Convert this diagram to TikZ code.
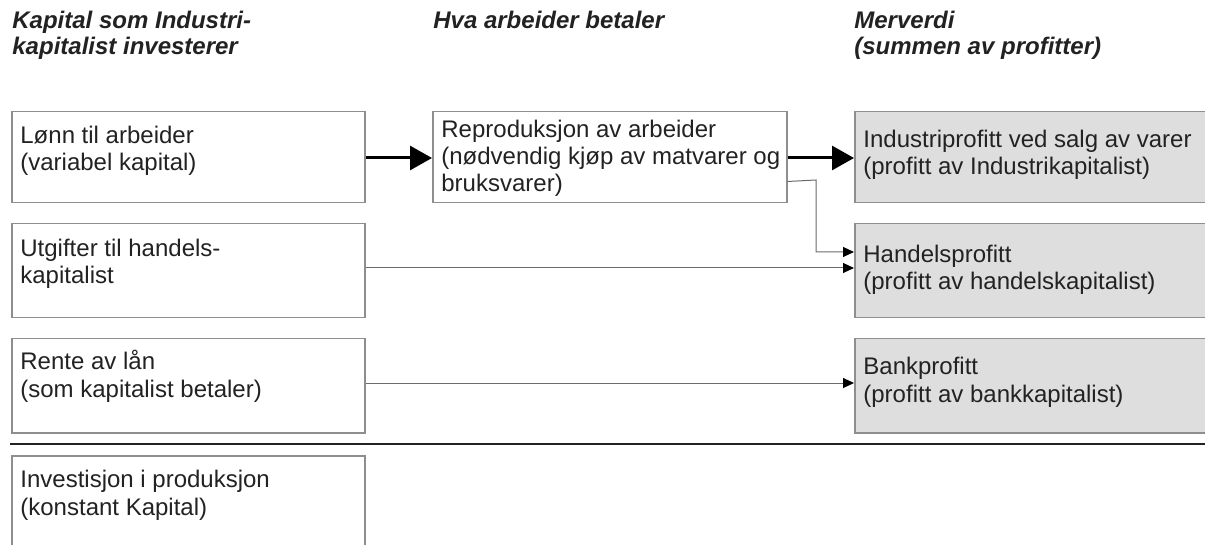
\documentclass[tikz,border=0pt]{standalone}
\usepackage{fontspec}
\setmainfont{Liberation Sans}
\usetikzlibrary{arrows.meta,calc}
\definecolor{txt}{HTML}{222222}
\definecolor{bord}{HTML}{8E8E8E}
\definecolor{fillg}{HTML}{DEDEDE}
\definecolor{thin}{HTML}{6A6A6A}
\begin{document}
\begin{tikzpicture}[x=0.5pt,y=-0.5pt,
  every node/.style={text=txt},
  box/.style={draw=bord,line width=0.75pt,anchor=north west,inner sep=0pt,minimum width=#1*0.5pt},
  gbox/.style={box=#1,fill=fillg},
  boxtext/.style={anchor=base west,inner sep=0pt,align=left,font=\fontsize{12}{13.6}\selectfont},
  head/.style={anchor=base west,inner sep=0pt,align=left,font=\fontsize{12}{13}\selectfont\bfseries\itshape},
  thick arrow/.style={line width=1.5pt,-{Triangle[length=11pt,width=12pt]}},
  thin arrow/.style={draw=thin,line width=0.5pt,-{Triangle[length=5.5pt,width=5pt,color=black]}}
]
\clip (0,0) rectangle (1205,545);
\fill[white] (0,0) rectangle (1205,545);

% headers (anchor at last baseline)
\node[head] (h1) at (12,55) {Kapital som Industri-\\kapitalist investerer};
\node[head] (h2) at (433,29) {Hva arbeider betaler};
\node[head] (h3) at (854,55) {Merverdi\\(summen av profitter)};

% left boxes
\node[box=353,minimum height=45.5pt] (b1) at (11,111) {};
\node[box=353,minimum height=47pt] (b2) at (11,223) {};
\node[box=353,minimum height=47pt] (b3) at (11,338) {};
\node[box=353,minimum height=60pt] (b4) at (11,455) {};

% middle box
\node[box=354,minimum height=45.5pt] (m) at (432,111) {};

% right boxes
\node[gbox=380,minimum height=45.5pt] (r1) at (854,111) {};
\node[gbox=380,minimum height=47pt] (r2) at (854,223) {};
\node[gbox=380,minimum height=47pt] (r3) at (854,338) {};

% texts (anchor at last baseline; line step 27px)
\node[boxtext] (t1) at ($(b1.north west)+(9,60)$) {Lønn til arbeider\\(variabel kapital)};
\node[boxtext] (t2) at ($(b2.north west)+(9,61)$) {Utgifter til handels-\\kapitalist};
\node[boxtext] (t3) at ($(b3.north west)+(9,59)$) {Rente av lån\\(som kapitalist betaler)};
\node[boxtext] (t4) at ($(b4.north west)+(9,60)$) {Investisjon i produksjon\\(konstant Kapital)};
\node[boxtext] (tm) at ($(m.north west)+(9,81)$) {Reproduksjon av arbeider\\(nødvendig kjøp av matvarer og\\bruksvarer)};
\node[boxtext] (u1) at ($(r1.north west)+(9,64)$) {Industriprofitt ved salg av varer\\(profitt av Industrikapitalist)};
\node[boxtext] (u2) at ($(r2.north west)+(9,67)$) {Handelsprofitt\\(profitt av handelskapitalist)};
\node[boxtext] (u3) at ($(r3.north west)+(9,64)$) {Bankprofitt\\(profitt av bankkapitalist)};

% separator
\coordinate (sepL) at (10,444);
\coordinate (sepR) at (1210,444);
\draw[line width=1.1pt,color=txt] (sepL) -- (sepR);

% arrows
\draw[thick arrow] ($(b1.north east)+(0,47)$) -- ($(m.north west)+(0,47)$);
\draw[thick arrow] ($(m.north east)+(0,47)$) -- ($(r1.north west)+(0,47)$);
\coordinate (bend) at (816,180);
\draw[thin arrow] ($(m.south east)+(0,-22)$) -- (bend) |- ($(r2.north west)+(0,29)$);
\draw[thin arrow] ($(b2.north east)+(0,45)$) -- ($(r2.north west)+(0,45)$);
\draw[thin arrow] ($(b3.north east)+(0,45)$) -- ($(r3.north west)+(0,45)$);
\end{tikzpicture}
\end{document}
